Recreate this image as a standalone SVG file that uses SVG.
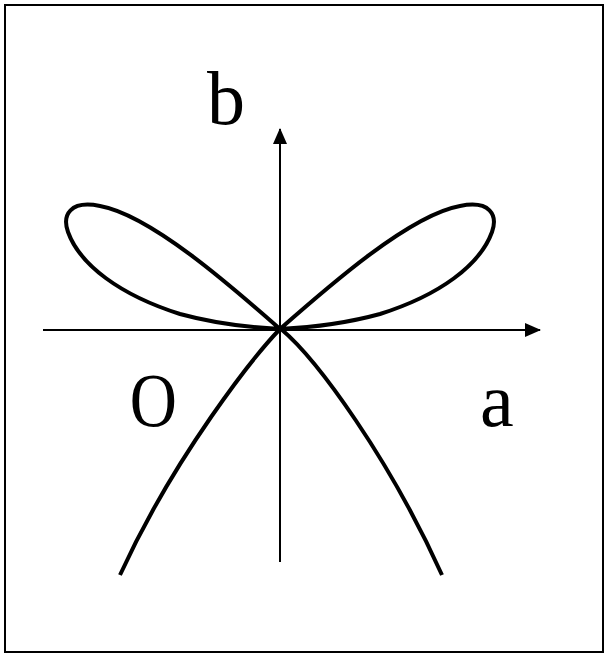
<svg xmlns="http://www.w3.org/2000/svg" width="605" height="654" viewBox="0 0 605 654">
  <defs>
    <style>
      .axis { stroke: #000; stroke-width: 2; fill: none; }
      .curve { stroke: #000; stroke-width: 4; fill: none; stroke-linejoin: round; }
      .lbl { font-family: "Liberation Serif", "Times New Roman", serif; font-size: 76px; fill: #000; }
    </style>
    <marker id="arr" markerUnits="userSpaceOnUse" markerWidth="16" markerHeight="16" viewBox="0 0 16 14" refX="15" refY="7" orient="auto">
      <path d="M0,0 L16,7 L0,14 Z" fill="#000"/>
    </marker>
  </defs>
  <rect x="0" y="0" width="605" height="654" fill="#fff"/>
  <rect x="5" y="5" width="598" height="647" fill="none" stroke="#000" stroke-width="2"/>
  <g id="connectors">
    <line class="axis" x1="43" y1="330" x2="540" y2="330" marker-end="url(#arr)"/>
    <line class="axis" x1="280" y1="562" x2="280" y2="129" marker-end="url(#arr)"/>
  </g>
  <g id="curve">
    <path class="curve" d="M280,329 C230,285 150,215 100,206 C70,200 62,215 68,232 C80,265 120,295 180,314 C220,325 260,328 280,329 Z"/>
    <path class="curve" d="M280,329 C330,285 410,215 460,206 C490,200 498,215 492,232 C480,265 440,295 380,314 C340,325 300,328 280,329 Z"/>
    <path class="curve" d="M280,329 C255,355 175,455 120,575"/>
    <path class="curve" d="M281,329 C318,360 390,460 442,575"/>
  </g>
  <g id="label-b"><text class="lbl" x="207" y="124">b</text></g>
  <g id="label-o"><text class="lbl" transform="scale(0.86,1)" x="151" y="426">O</text></g>
  <g id="label-a"><text class="lbl" x="480" y="426">a</text></g>
</svg>
